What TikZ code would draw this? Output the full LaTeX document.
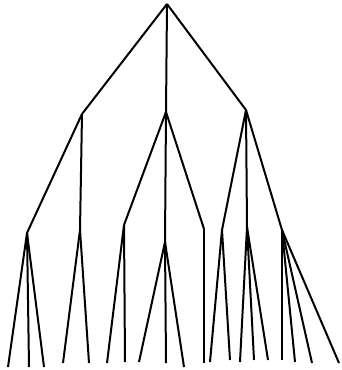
\documentclass[tikz,border=0pt]{standalone}
\usetikzlibrary{positioning}

\begin{document}
\begin{tikzpicture}[
  x=1pt, y=-1pt,
  edge/.style={draw=black, line width=2pt}
]
\useasboundingbox (0,0) rectangle (342,370);

% inner vertices
\coordinate (root) at (167,4);
\coordinate (a) at (82,114);
\coordinate (b) at (166,112);
\coordinate (c) at (246,110);
\coordinate (a1) at (27,233);
\coordinate (a2) at (80,230);
\coordinate (b1) at (124,225);
\coordinate (b2) at (165,242);
\coordinate (b3) at (204,229);
\coordinate (c1) at (222,230);
\coordinate (c2) at (247,227);
\coordinate (c3) at (282,230);

% leaves
\foreach \n/\x/\y in {l1/8/367, l2/29/367, l3/44/367, l4/63/363, l5/89/363,
    l6/107/363, l7/125/362, l8/139/362, l9/166/363, l10/184/367,
    l11/204/363, l12/210/362, l13/230/360, l14/240/362, l15/254/360,
    l16/268/360, l17/282/360, l18/295/362, l19/312/363, l20/339/363}
  \coordinate (\n) at (\x,\y);

% edges
\foreach \p/\q in {root/a, root/b, root/c,
    a/a1, a/a2, b/b1, b/b2, b/b3, c/c1, c/c2, c/c3,
    a1/l1, a1/l2, a1/l3, a2/l4, a2/l5,
    b1/l6, b1/l7, b2/l8, b2/l9, b2/l10, b3/l11,
    c1/l12, c1/l13, c2/l14, c2/l15, c2/l16,
    c3/l17, c3/l18, c3/l19, c3/l20}
  \draw[edge] (\p) -- (\q);
\end{tikzpicture}
\end{document}
